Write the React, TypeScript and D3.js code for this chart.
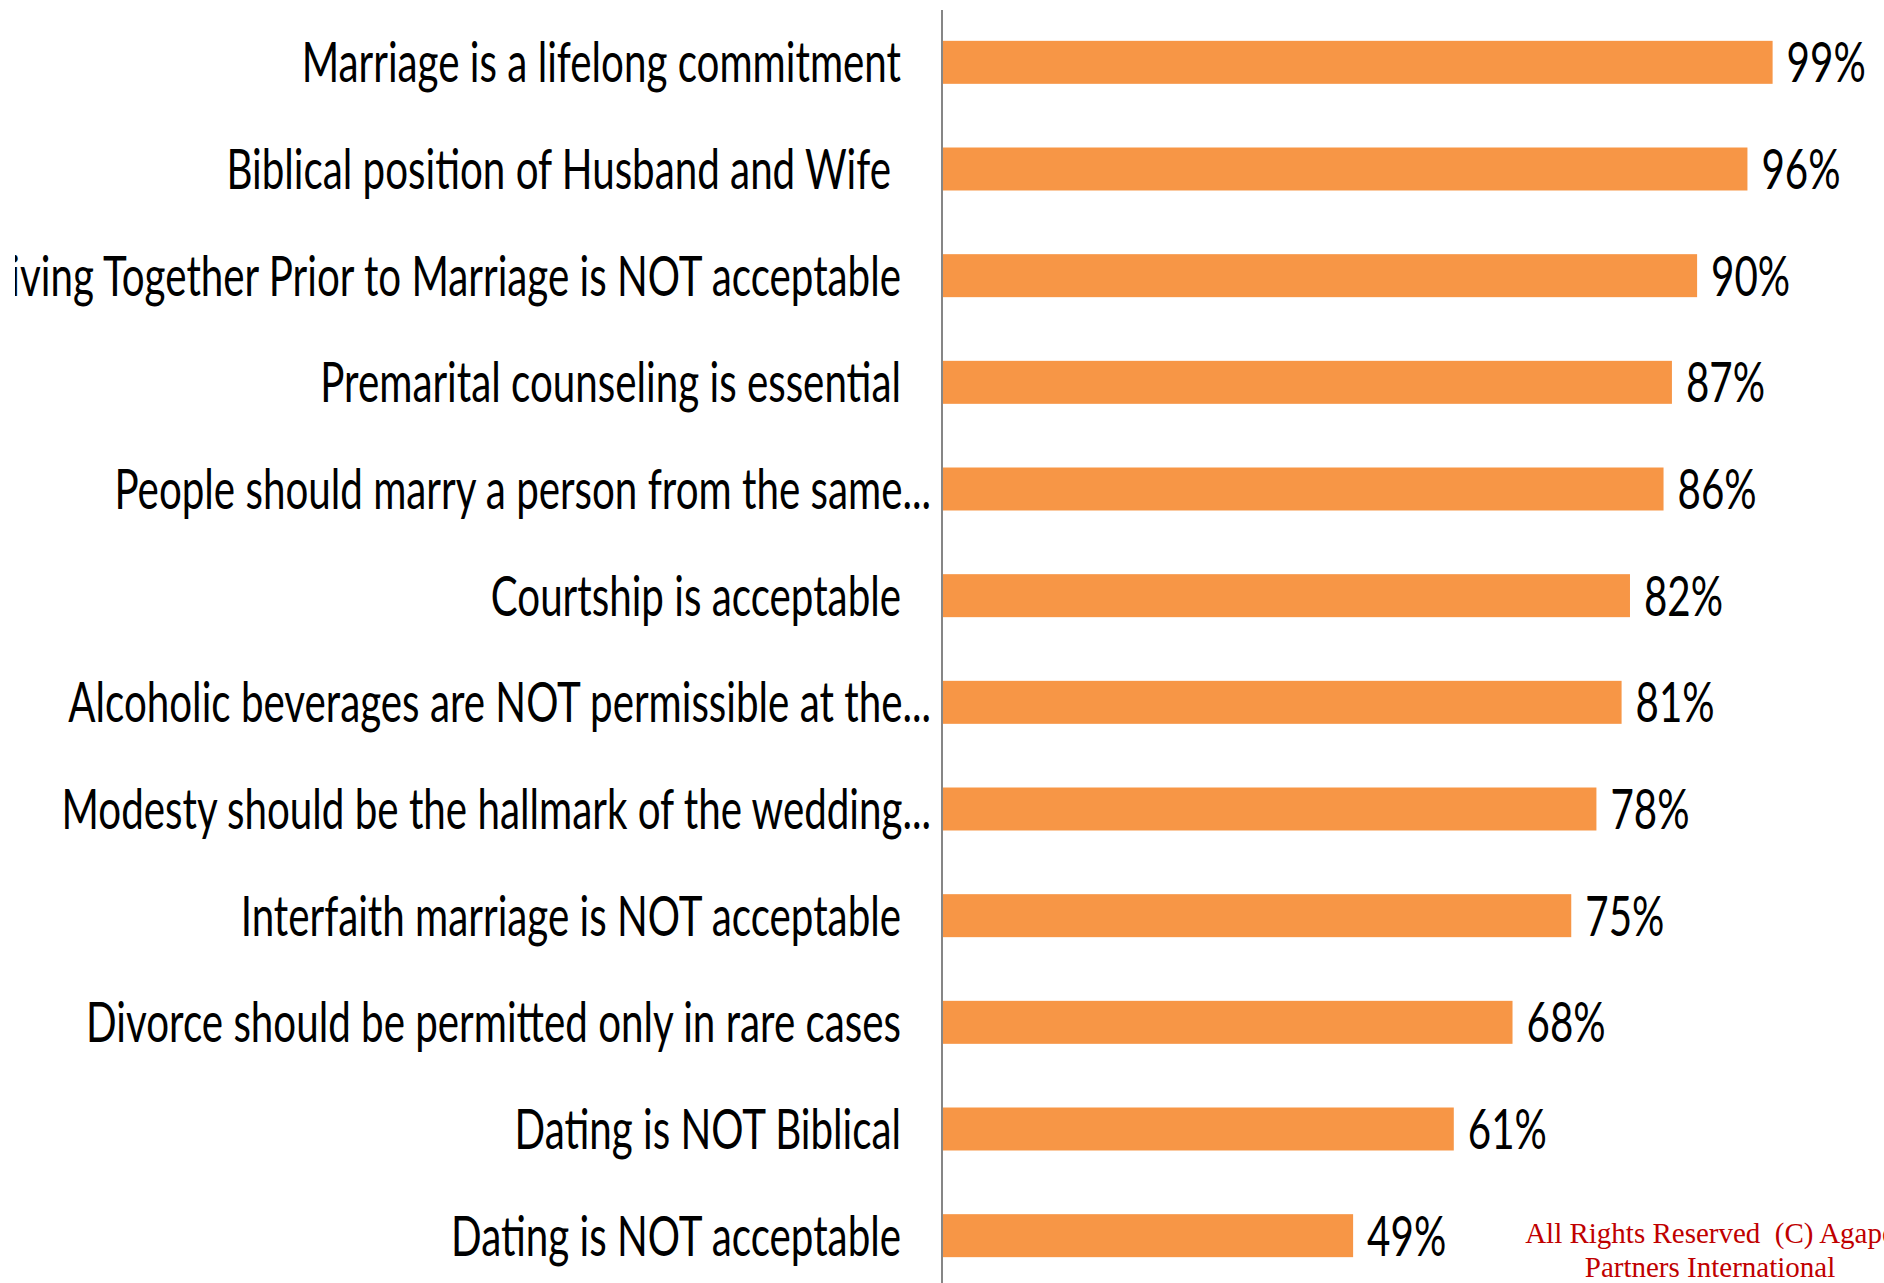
import React from 'react';
import * as d3 from 'd3';

// survey answers, top to bottom
const categories = [
  'Marriage is a lifelong commitment',
  'Biblical position of Husband and Wife',
  'Living Together Prior to Marriage is NOT acceptable',
  'Premarital counseling is essential',
  'People should marry a person from the same...',
  'Courtship is acceptable',
  'Alcoholic beverages are NOT permissible at the...',
  'Modesty should be the hallmark of the wedding...',
  'Interfaith marriage is NOT acceptable',
  'Divorce should be permitted only in rare cases',
  'Dating is NOT Biblical',
  'Dating is NOT acceptable',
];
const values = [99, 96, 90, 87, 86, 82, 81, 78, 75, 68, 61, 49];
const copyrightLines = ['All Rights Reserved  (C) Agape', 'Partners International'];

const W = 1884;
const H = 1283;
const axisX = 942;
const fontSize = 56;
const squeeze = 0.72; // the original text looks horizontally condensed
const labelFont = 'Lato, "Open Sans", sans-serif';

const App = () => {
  const x = d3.scaleLinear().domain([0, 100]).range([axisX, 1781]);
  const y = d3
    .scaleBand<string>()
    .domain(categories)
    .range([9, 1289])
    .paddingInner(0.597)
    .paddingOuter(0.2985);

  const capShift = fontSize * 0.36;

  return (
    <svg
      width={W}
      height={H}
      style={{ position: 'absolute', left: 0, top: 0, display: 'block', background: '#fff' }}
    >
      <defs>
        <clipPath id="labelClip">
          <rect x={15} y={0} width={W - 15} height={H} />
        </clipPath>
      </defs>

      {/* bars */}
      {categories.map((c, i) => (
        <rect
          key={c}
          x={x(0)}
          y={y(c)}
          width={x(values[i]) - x(0)}
          height={y.bandwidth()}
          fill="#F79646"
        />
      ))}

      {/* category labels */}
      <g clipPath="url(#labelClip)">
        {categories.map((c) => {
          const cy = (y(c) as number) + y.bandwidth() / 2;
          const right = c.endsWith('...') ? axisX - 11 : axisX - 41;
          const extra = c === 'Biblical position of Husband and Wife' ? 10 : 0;
          return (
            <text
              key={c}
              transform={`translate(${right - extra},${cy + capShift}) scale(${squeeze},1)`}
              textAnchor="end"
              fontFamily={labelFont}
              fontSize={fontSize}
              fill="#000"
            >
              {c}
            </text>
          );
        })}
      </g>

      {/* value labels */}
      {categories.map((c, i) => {
        const cy = (y(c) as number) + y.bandwidth() / 2;
        return (
          <text
            key={c}
            transform={`translate(${x(values[i]) + 14},${cy + capShift}) scale(${squeeze},1)`}
            fontFamily={labelFont}
            fontSize={fontSize}
            fill="#000"
          >
            {values[i]}%
          </text>
        );
      })}

      {/* category axis */}
      <line x1={axisX} x2={axisX} y1={10} y2={H} stroke="#868686" strokeWidth={2} />

      {/* copyright, runs off the right edge like the original */}
      {copyrightLines.map((t, i) => (
        <text
          key={t}
          x={1710}
          y={1243 + i * 34}
          textAnchor="middle"
          fontFamily='"Liberation Serif", "Times New Roman", serif'
          fontSize={29}
          fill="#C00000"
          style={{ whiteSpace: 'pre' }}
        >
          {t}
        </text>
      ))}
    </svg>
  );
};

export default App;
